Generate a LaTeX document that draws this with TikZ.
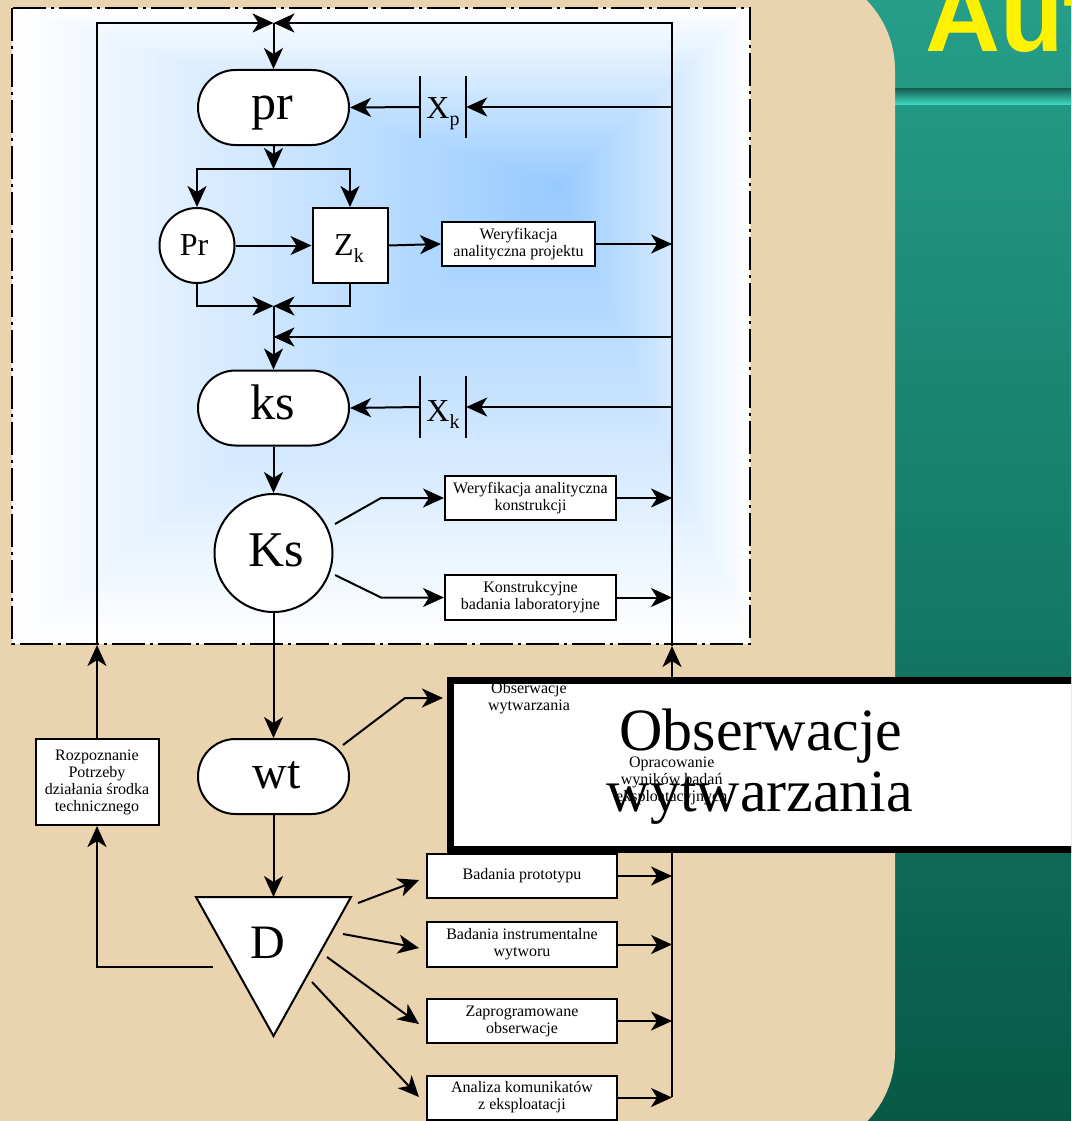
\documentclass[tikz,border=0pt]{standalone}
\usepackage{fontspec}
\setmainfont{Liberation Serif}
\newfontfamily\titlefont{Liberation Sans}
\usetikzlibrary{arrows.meta}
\definecolor{panel}{RGB}{234,211,175}
\definecolor{tealtop}{RGB}{37,158,138}
\definecolor{tealbot}{RGB}{6,89,69}
\definecolor{skyc}{RGB}{150,202,255}
\definecolor{stripedark}{RGB}{22,100,86}
\definecolor{stripemid}{RGB}{40,160,140}
\definecolor{stripelight}{RGB}{66,222,198}

\begin{document}
\begin{tikzpicture}[x=1pt,y=-1pt,
  ln/.style={line width=2pt},
  arr/.style={line width=2pt,-{Stealth[length=21pt,width=19pt,inset=6pt]}},
  term/.style={draw,line width=2pt,fill=white,rounded corners=37.5pt,
    minimum width=151pt,minimum height=75pt,inner sep=0pt},
  circ/.style={circle,draw,line width=2pt,fill=white,inner sep=0pt},
  sqbox/.style={draw,line width=2pt,fill=white,inner sep=0pt},
  sbox/.style={draw,line width=2pt,fill=white,align=center,inner sep=0pt,
    font=\fontsize{16}{17}\selectfont},
  big/.style={inner sep=0pt,anchor=base,font=\fontsize{50}{50}\selectfont},
  mid/.style={inner sep=0pt,anchor=base,font=\fontsize{32}{32}\selectfont},
  small/.style={inner sep=0pt,anchor=base,font=\fontsize{16}{17}\selectfont},
  huge/.style={inner sep=0pt,anchor=base,font=\fontsize{60}{60}\selectfont},
  barbox/.style={inner sep=0pt,minimum width=46pt,minimum height=61pt}
]
\useasboundingbox (0,0) rectangle (1071,1121);
\clip (0,0) rectangle (1071,1121);

% slide background: teal band, stripe and title
\shade[top color=tealtop,bottom color=tealbot] (0,0) rectangle (1071,1121);
\shade[top color=stripedark,middle color=stripemid,bottom color=stripelight]
  (895,89) rectangle (1071,105);
\node[anchor=base west,inner sep=0pt,text=yellow,
  font=\titlefont\bfseries\fontsize{104}{104}\selectfont] (title) at (925,52) {Aut};

% beige panel with rounded right corners
\fill[panel,rounded corners=100pt] (-300,-30) rectangle (895,1152);

% blue area: rectangular gradient towards a light spot
\foreach \i in {0,...,79}{
  \pgfmathsetmacro\f{\i/80}
  \pgfmathsetmacro\p{100*\f}
  \fill[skyc!\p!white] ({12+548*\f},{8+177*\f}) rectangle ({750-190*\f},{644-459*\f});
}
\draw[line width=2.5pt,dash pattern=on 33pt off 5pt on 3pt off 5pt]
  (12,8) rectangle (750,644);

% main blocks
\node[term] (pr) at (273.5,107.5) {};
\node[big] (prt) at (272.5,120) {pr};
\node[circ,minimum size=75pt] (Pr) at (197,245.5) {};
\node[mid] (Prt) at (194,255) {Pr};
\node[sqbox,minimum size=75pt] (Zk) at (350,245.5) {};
\node[mid] (Zkt) at (349,255) {Z\raisebox{-7pt}{\fontsize{20}{20}\selectfont k}};
\node[term] (ks) at (273.5,408) {};
\node[big] (kst) at (272.5,419.3) {ks};
\node[circ,minimum size=118pt] (Ks) at (273.5,553) {};
\node[big] (Kst) at (276,566.7) {Ks};
\node[term] (wt) at (273.5,776.5) {};
\node[big,font=\fontsize{48}{48}\selectfont] (wtt) at (276.5,788) {wt};
\draw[line width=2pt,fill=white] (196,897) -- (351,897) -- (273.5,1036) -- cycle;
\coordinate (Dtop) at (273.5,897);
\node[big,font=\fontsize{48}{48}\selectfont] (Dt) at (268,958) {D};

% X gates
\node[barbox] (xp) at (443,107) {};
\draw[ln] (xp.north west) -- (xp.south west);
\draw[ln] (xp.north east) -- (xp.south east);
\node[mid] (xpt) at (443,118.3) {X\raisebox{-7pt}{\fontsize{20}{20}\selectfont p}};
\node[barbox] (xk) at (443,407) {};
\draw[ln] (xk.north west) -- (xk.south west);
\draw[ln] (xk.north east) -- (xk.south east);
\node[mid] (xkt) at (443,421.7) {X\raisebox{-7pt}{\fontsize{20}{20}\selectfont k}};

% activity boxes
\node[sbox,minimum width=153pt,minimum height=44pt] (wap) at (518.5,244)
  {Weryfikacja\\analityczna projektu};
\node[sbox,minimum width=171pt,minimum height=44pt] (wak) at (530.5,498)
  {Weryfikacja analityczna\\konstrukcji};
\node[sbox,minimum width=171pt,minimum height=45pt] (kbl) at (530.5,597.5)
  {Konstrukcyjne\\badania laboratoryjne};
\node[sbox,minimum width=123pt,minimum height=86pt] (rpd) at (97,782)
  {Rozpoznanie\\Potrzeby\\działania środka\\technicznego};
\node[sbox,minimum width=190pt,minimum height=44pt] (bp) at (522,876)
  {Badania prototypu};
\node[sbox,minimum width=190pt,minimum height=45pt] (bi) at (522,944.5)
  {Badania instrumentalne\\wytworu};
\node[sbox,minimum width=190pt,minimum height=44pt] (zo) at (522,1021)
  {Zaprogramowane\\obserwacje};
\node[sbox,minimum width=190pt,minimum height=44pt] (ak) at (522,1097.5)
  {Analiza komunikatów\\z eksploatacji};

% junction points
\coordinate (Ltop) at (97,23);
\coordinate (Lmid) at (97,645);
\coordinate (Ttip) at (273.5,23);
\coordinate (Rtop) at (672,23);
\coordinate (Rmid) at (672,646);
\coordinate (Rbot) at (672,1097);
\coordinate (S1) at (273.5,169);
\coordinate (M1) at (273.5,306);
\coordinate (J1) at (273.5,337);
\coordinate (k1) at (335,524);
\coordinate (k1b) at (381,498);
\coordinate (k2) at (335,575);
\coordinate (k2b) at (381,597.5);
\coordinate (w1) at (343,745);
\coordinate (w2) at (405,698);
\coordinate (obsin) at (443,698);
\coordinate (d1) at (358,903);
\coordinate (t1) at (419,880);
\coordinate (d2) at (343,934);
\coordinate (t2) at (419,948);
\coordinate (d3) at (327,957);
\coordinate (t3) at (419,1024);
\coordinate (d4) at (312,982);
\coordinate (t4) at (419,1097);
\coordinate (dl) at (213,967);

% feedback loops
\draw[arr] (rpd.north) -- (Lmid);
\draw[arr] (Lmid) -- (Ltop) -- (Ttip);
\draw[arr] (Rbot) -- (Rmid);
\draw[arr] (Rmid) -- (Rtop) -- (Ttip);
\draw[arr] (Ttip) -- (pr.north);

% design stage
\draw[arr] (xp.east -| Rtop) -- (xp.east);
\draw[arr] (xp.west) -- (pr.east);
\draw[arr] (pr.south) -- (S1);
\draw[arr] (S1) -| (Pr.north);
\draw[arr] (S1) -| (Zk.north);
\draw[arr] (Pr.east) -- (Zk.west);
\draw[arr] (Zk.east) -- (wap.west);
\draw[arr] (wap.east) -- (wap.east -| Rtop);
\draw[arr] (Pr.south) |- (M1);
\draw[arr] (Zk.south) |- (M1);
\draw[arr] (J1 -| Rtop) -- (J1);
\draw[arr] (M1) -- (ks.north);

% construction stage
\draw[arr] (xk.east -| Rtop) -- (xk.east);
\draw[arr] (xk.west) -- (ks.east);
\draw[arr] (ks.south) -- (Ks.north);
\draw[arr] (k1) -- (k1b) -- (wak.west);
\draw[arr] (k2) -- (k2b) -- (kbl.west);
\draw[arr] (wak.east) -- (wak.east -| Rtop);
\draw[arr] (kbl.east) -- (kbl.east -| Rtop);

% manufacturing and tests
\draw[arr] (Ks.south) -- (wt.north);
\draw[arr] (w1) -- (w2) -- (obsin);
\draw[arr] (wt.south) -- (Dtop);
\draw[arr] (d1) -- (t1);
\draw[arr] (d2) -- (t2);
\draw[arr] (d3) -- (t3);
\draw[arr] (d4) -- (t4);
\draw[arr] (dl) -| (rpd.south);
\draw[arr] (bp.east) -- (bp.east -| Rtop);
\draw[arr] (bi.east) -- (bi.east -| Rtop);
\draw[arr] (zo.east) -- (zo.east -| Rtop);
\draw[arr] (ak.east) -- (ak.east -| Rtop);

% enlarged caption frame
\node[draw,line width=7pt,fill=white,inner sep=0pt,minimum width=650pt,
  minimum height=169pt,anchor=north west] (zoomb) at (446.5,676.5) {};
\node[small] (ob1) at (529,693) {Obserwacje};
\node[small] (ob2) at (529,710) {wytwarzania};
\node[small] (op1) at (671.7,767) {Opracowanie};
\node[small] (op2) at (671.7,784) {wyników badań};
\node[small] (op3) at (671.7,801) {eksploatacyjnych};
\node[huge] (bt1) at (761,750) {Obserwacje};
\node[huge] (bt2) at (760,811.7) {wytwarzania};
\end{tikzpicture}
\end{document}
